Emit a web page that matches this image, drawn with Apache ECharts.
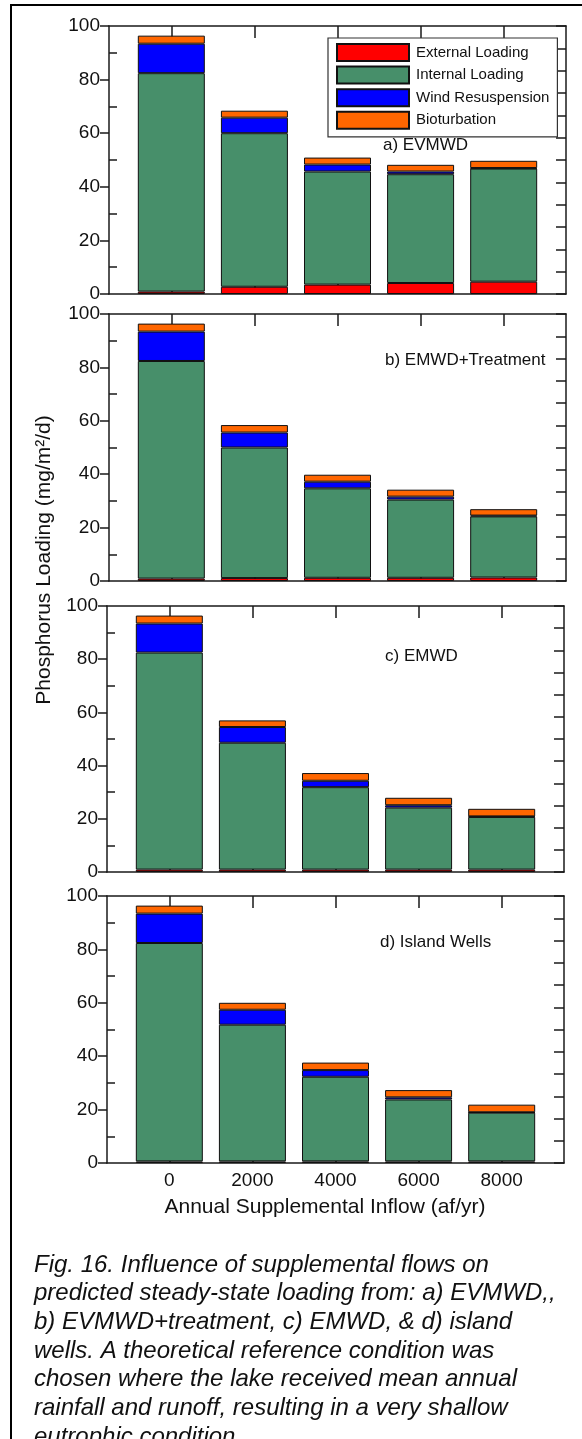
<!DOCTYPE html>
<html>
<head>
<meta charset="utf-8">
<script src="https://cdn.jsdelivr.net/npm/echarts@6.0.0/dist/echarts.min.js"></script>
<style>
  html, body { margin: 0; padding: 0; background: #fff; }
  #chart { width: 582px; height: 1439px; }
</style>
</head>
<body>
<div id="chart"></div>
<script>
// x values (annual supplemental inflow, af/yr)
var inflow = [0, 2000, 4000, 6000, 8000];

var components = ['External Loading', 'Internal Loading', 'Wind Resuspension', 'Bioturbation'];
var panelNames = ['a) EVMWD', 'b) EMWD+Treatment', 'c) EMWD', 'd) Island Wells'];

// a) EVMWD
var aExternal = [0.9, 2.7, 3.5, 4.1, 4.6];
var aInternal = [81.5, 57.3, 42.2, 40.6, 42.2];
var aWind = [11.0, 5.8, 2.6, 1.0, 0.2];
var aBio = [3.0, 2.6, 2.6, 2.5, 2.7];

// b) EMWD+Treatment
var bExternal = [0.9, 1.1, 1.2, 1.2, 1.3];
var bInternal = [81.5, 48.9, 33.5, 29.3, 22.9];
var bWind = [11.0, 5.6, 2.5, 1.1, 0.3];
var bBio = [3.0, 2.8, 2.6, 2.6, 2.4];

// c) EMWD
var cExternal = [0.9, 0.9, 0.9, 0.9, 0.9];
var cInternal = [81.6, 47.7, 31.0, 23.3, 19.8];
var cWind = [10.9, 5.9, 2.4, 0.9, 0.2];
var cBio = [3.0, 2.5, 2.9, 2.8, 2.85];

// d) Island Wells
var dExternal = [0.6, 0.6, 0.6, 0.6, 0.6];
var dInternal = [81.8, 51.2, 31.7, 23.2, 18.25];
var dWind = [11.0, 5.6, 2.5, 0.8, 0.15];
var dBio = [3.0, 2.6, 2.8, 2.7, 2.85];

var leftTicks = [0, 20, 40, 60, 80, 100];
var leftMinorTicks = [10, 30, 50, 70, 90];

var yTitle = 'Phosphorus Loading (mg/m\u00b2/d)';
var xTitle = 'Annual Supplemental Inflow (af/yr)';
var caption = [
    'Fig. 16. Influence of supplemental flows on',
    'predicted steady-state loading from: a) EVMWD,,',
    'b) EVMWD+treatment, c) EMWD, & d) island',
    'wells. A theoretical reference condition was',
    'chosen where the lake received mean annual',
    'rainfall and runoff, resulting in a very shallow',
    'eutrophic condition.'
];

var panels = [
    [aExternal, aInternal, aWind, aBio],
    [bExternal, bInternal, bWind, bBio],
    [cExternal, cInternal, cWind, cBio],
    [dExternal, dInternal, dWind, dBio]
];

var colors = ['#ff0000', '#478f6a', '#0000ff', '#ff6600'];
var font = "'Liberation Sans', Arial, Helvetica, sans-serif";
var axisColor = '#1a1a1a';

// frame boxes of the four panels; x range of the frame is -1500..9500 af/yr
var xMin = -1500, xMax = 9500;
var frames = [
    { left: 109, right: 16, top: 26, height: 268 },
    { left: 109, right: 16, top: 314, height: 267 },
    { left: 107, right: 18, top: 606, height: 266 },
    { left: 107, right: 18, top: 896, height: 267 }
];
var labelPos = [[383, 145], [385, 360], [385, 656], [380, 942]];

var grids = [], xAxes = [], yAxes = [], series = [], graphics = [];

function lineStyle() {
    return { color: axisColor, width: 1.5 };
}

frames.forEach(function (g, p) {
    var last = p === frames.length - 1;
    var w = 582 - g.left - g.right;
    var pad = (inflow[0] - 1000 - xMin) * w / (xMax - xMin);
    var fi = grids.length;
    grids.push(g);
    // bars sit in an inner grid whose category bands are 2000 af/yr wide
    grids.push({ left: g.left + pad, right: g.right + pad, top: g.top, height: g.height });

    var xi = xAxes.length, yi = yAxes.length;
    // frame: bottom x axis
    xAxes.push({
        type: 'value', gridIndex: fi, position: 'bottom', min: xMin, max: xMax,
        axisLine: { show: true, onZero: false, lineStyle: lineStyle() },
        axisTick: { show: true, inside: true, length: 10, customValues: inflow, lineStyle: lineStyle() },
        axisLabel: { show: last, customValues: inflow, margin: 8,
            formatter: function (v) { return String(v); },
            color: '#111', fontSize: 19, fontFamily: font },
        splitLine: { show: false }
    });
    // frame: top x axis
    xAxes.push({
        type: 'value', gridIndex: fi, position: 'top', min: xMin, max: xMax,
        axisLine: { show: true, onZero: false, lineStyle: lineStyle() },
        axisTick: { show: true, inside: true, length: 12, customValues: inflow, lineStyle: lineStyle() },
        axisLabel: { show: false },
        splitLine: { show: false }
    });
    // bars: category x axis (hidden)
    xAxes.push({
        type: 'category', gridIndex: fi + 1, data: inflow.map(String), show: false
    });

    // frame: left y axis with major ticks outside
    yAxes.push({
        type: 'value', gridIndex: fi, position: 'left', min: 0, max: 100, interval: 20,
        axisLine: { show: true, onZero: false, lineStyle: lineStyle() },
        axisTick: { show: true, inside: false, length: 9, customValues: leftTicks, lineStyle: lineStyle() },
        axisLabel: { show: true, margin: 9, color: '#111', fontSize: 19, fontFamily: font },
        splitLine: { show: false }
    });
    // frame: minor ticks inside
    yAxes.push({
        type: 'value', gridIndex: fi, position: 'left', min: 0, max: 100,
        axisLine: { show: false, onZero: false },
        axisTick: { show: true, inside: true, length: 8, customValues: leftMinorTicks, lineStyle: lineStyle() },
        axisLabel: { show: false },
        splitLine: { show: false }
    });
    // frame: right y axis
    yAxes.push({
        type: 'value', gridIndex: fi, position: 'right', min: 0, max: 12, interval: 1,
        axisLine: { show: true, onZero: false, lineStyle: lineStyle() },
        axisTick: { show: true, inside: true, length: 10, lineStyle: lineStyle() },
        axisLabel: { show: false },
        splitLine: { show: false }
    });
    // bars: value y axis (hidden)
    yAxes.push({
        type: 'value', gridIndex: fi + 1, min: 0, max: 100, show: false, splitLine: { show: false }
    });

    panels[p].forEach(function (vals, k) {
        series.push({
            type: 'bar',
            name: components[k],
            xAxisIndex: xi + 2,
            yAxisIndex: yi + 3,
            stack: 'panel' + p,
            barWidth: 67,
            data: vals,
            itemStyle: { color: colors[k], borderColor: '#111', borderWidth: 1 }
        });
    });

    graphics.push({
        type: 'text', x: labelPos[p][0], y: labelPos[p][1],
        style: { text: panelNames[p], fill: '#111', font: '17px ' + font, verticalAlign: 'middle' }
    });
});

// outer frame
graphics.push({
    type: 'rect', shape: { x: 11, y: 5, width: 620, height: 1500 },
    style: { fill: 'none', stroke: '#000', lineWidth: 2 }, z: -1
});
graphics.push({
    type: 'text', x: 44, y: 560, rotation: Math.PI / 2,
    style: { text: yTitle, fill: '#111', font: '21px ' + font, align: 'center', verticalAlign: 'middle' }
});
graphics.push({
    type: 'text', x: 325, y: 1207,
    style: { text: xTitle, fill: '#111', font: '21px ' + font, align: 'center', verticalAlign: 'middle' }
});
caption.forEach(function (line, i) {
    graphics.push({
        type: 'text', x: 34, y: 1265 + i * 28.7,
        style: { text: line, fill: '#111', font: 'italic 24px ' + font, verticalAlign: 'middle' }
    });
});

var chart = echarts.init(document.getElementById('chart'));
chart.setOption({
    animation: false,
    backgroundColor: '#fff',
    grid: grids,
    xAxis: xAxes,
    yAxis: yAxes,
    legend: {
        data: components,
        orient: 'vertical',
        left: 328, top: 38,
        padding: [5, 8, 7, 8],
        itemWidth: 72, itemHeight: 17, itemGap: 3.6,
        backgroundColor: '#fff',
        borderColor: '#333', borderWidth: 1.2, borderRadius: 0,
        selectedMode: false,
        icon: 'rect',
        textStyle: { color: '#111', fontSize: 15, fontFamily: font, padding: [0, 0, 0, 2] }
    },
    series: series,
    graphic: graphics
});
</script>
</body>
</html>
